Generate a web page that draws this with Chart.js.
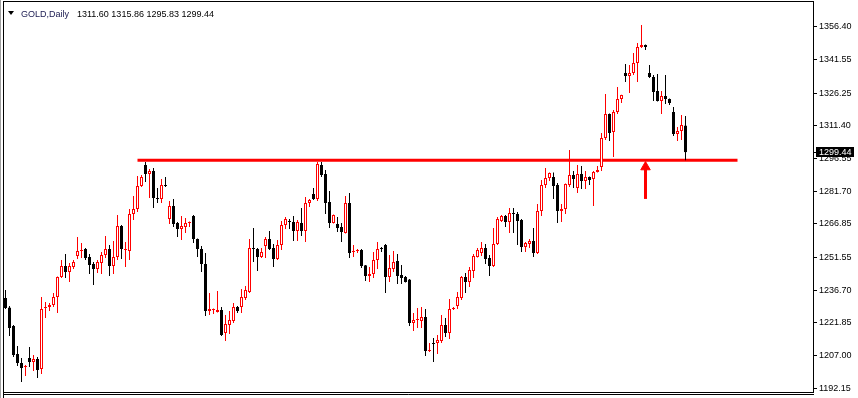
<!DOCTYPE html>
<html>
<head>
<meta charset="utf-8">
<script src="https://cdn.jsdelivr.net/npm/chart.js@4.4.1/dist/chart.umd.min.js"></script>
<style>
  html, body { margin: 0; padding: 0; background: #fff; }
  #wrap { width: 858px; height: 398px; position: relative; }
</style>
</head>
<body>
<div id="wrap"><canvas id="goldChart"></canvas></div>
<script>
// GOLD daily candles, oldest first
const symbolTitle = 'GOLD,Daily';
const opens = [
  1233.2, 1228.8, 1220.4, 1207.7, 1203.6, 1201.8, 1205.9, 1204.1, 1205.4, 1200.9,
  1228.6, 1229.1, 1230.0, 1233.6, 1242.7, 1247.7, 1245.0, 1247.3, 1252.3, 1254.5,
  1255.4, 1251.8, 1248.6, 1246.4, 1249.1, 1252.7, 1255.4, 1247.7, 1251.8, 1265.9,
  1255.0, 1254.5, 1271.3, 1273.6, 1284.1, 1293.6, 1289.5, 1290.9, 1278.6, 1278.2,
  1284.5, 1269.1, 1275.0, 1267.3, 1264.5, 1265.4, 1267.3, 1270.4, 1260.0, 1255.4,
  1248.6, 1227.3, 1227.7, 1226.8, 1227.7, 1217.3, 1220.9, 1222.7, 1229.1, 1229.1,
  1233.2, 1235.9, 1255.9, 1255.4, 1251.8, 1256.8, 1260.0, 1255.9, 1250.9, 1257.3,
  1266.3, 1268.2, 1267.7, 1263.6, 1267.3, 1263.6, 1276.4, 1280.4, 1278.2, 1293.6,
  1289.5, 1276.8, 1267.3, 1266.8, 1265.4, 1262.7, 1276.4, 1254.1, 1254.5, 1255.0,
  1248.0, 1243.2, 1244.1, 1250.4, 1255.9, 1257.3, 1242.7, 1246.4, 1250.0, 1243.6,
  1242.7, 1241.6, 1221.8, 1223.2, 1222.7, 1224.5, 1209.1, 1212.7, 1212.7, 1213.6,
  1220.9, 1217.3, 1228.2, 1229.5, 1233.2, 1242.7, 1240.4, 1245.4, 1251.8, 1253.6,
  1255.9, 1251.4, 1247.7, 1257.7, 1268.2, 1270.4, 1267.7, 1271.8, 1271.3, 1268.6,
  1256.3, 1257.7, 1259.1, 1253.6, 1272.7, 1284.5, 1287.7, 1288.2, 1284.5, 1272.7,
  1273.6, 1284.5, 1289.1, 1283.2, 1289.5, 1286.4, 1288.2, 1287.3, 1290.4, 1292.7,
  1305.9, 1316.8, 1308.6, 1317.7, 1323.6, 1335.4, 1334.1, 1335.4, 1340.0, 1347.3,
  1348.2, 1335.4, 1333.6, 1327.3, 1322.7, 1325.0, 1323.6, 1317.7, 1307.7, 1309.1,
  1311.60
];
const highs = [
  1236.8, 1229.5, 1220.9, 1211.3, 1205.9, 1202.7, 1210.9, 1207.3, 1206.3, 1233.6,
  1231.3, 1230.9, 1235.4, 1242.9, 1250.4, 1253.2, 1249.1, 1250.4, 1260.9, 1258.2,
  1255.9, 1253.2, 1249.5, 1250.4, 1254.1, 1261.3, 1257.3, 1259.1, 1270.9, 1266.3,
  1258.6, 1273.6, 1279.5, 1288.6, 1289.1, 1295.0, 1291.8, 1292.3, 1283.2, 1287.3,
  1288.2, 1277.3, 1278.2, 1267.7, 1270.4, 1269.5, 1267.9, 1270.9, 1260.2, 1256.8,
  1253.6, 1235.4, 1228.4, 1236.4, 1229.1, 1225.4, 1227.3, 1230.9, 1229.5, 1237.3,
  1238.6, 1260.0, 1265.0, 1255.9, 1255.9, 1260.9, 1263.6, 1257.7, 1259.5, 1268.2,
  1270.0, 1269.1, 1270.4, 1268.6, 1274.1, 1279.1, 1278.2, 1283.2, 1295.0, 1295.0,
  1291.3, 1281.8, 1271.1, 1270.0, 1267.3, 1279.5, 1280.9, 1257.3, 1255.4, 1255.4,
  1248.2, 1247.3, 1254.1, 1258.6, 1256.3, 1257.7, 1252.7, 1254.5, 1253.2, 1248.2,
  1243.2, 1241.8, 1226.3, 1228.6, 1229.1, 1228.2, 1212.7, 1215.0, 1216.4, 1225.4,
  1224.1, 1232.7, 1229.1, 1235.9, 1243.2, 1244.5, 1247.3, 1253.2, 1255.9, 1258.6,
  1257.7, 1252.7, 1265.0, 1270.0, 1270.9, 1270.9, 1274.1, 1274.1, 1272.3, 1269.1,
  1258.6, 1260.0, 1265.0, 1275.9, 1286.8, 1292.3, 1290.2, 1290.2, 1285.4, 1275.9,
  1285.2, 1300.4, 1290.9, 1293.6, 1293.2, 1290.9, 1288.4, 1290.9, 1293.2, 1308.2,
  1325.9, 1317.0, 1318.6, 1329.1, 1325.6, 1339.5, 1339.1, 1344.5, 1349.1, 1357.3,
  1348.4, 1339.1, 1334.5, 1335.0, 1327.3, 1334.5, 1323.8, 1320.0, 1310.9, 1316.4,
  1315.86
];
const lows = [
  1228.2, 1215.9, 1206.3, 1202.3, 1195.0, 1197.7, 1201.8, 1200.0, 1196.8, 1198.6,
  1224.1, 1227.3, 1229.1, 1226.3, 1242.3, 1242.3, 1240.4, 1246.4, 1250.9, 1251.4,
  1250.4, 1244.1, 1239.1, 1244.5, 1244.1, 1251.4, 1243.2, 1244.1, 1250.4, 1250.9,
  1247.3, 1250.4, 1268.6, 1272.3, 1283.6, 1285.9, 1278.6, 1274.1, 1276.4, 1276.4,
  1283.6, 1266.8, 1265.4, 1260.9, 1259.5, 1262.7, 1265.4, 1258.2, 1251.8, 1245.0,
  1225.0, 1225.4, 1225.9, 1226.6, 1215.9, 1213.6, 1216.8, 1221.8, 1226.3, 1226.3,
  1232.3, 1235.4, 1249.5, 1245.4, 1251.4, 1251.4, 1255.0, 1247.3, 1250.4, 1255.0,
  1264.5, 1264.5, 1259.1, 1259.1, 1261.3, 1258.6, 1274.5, 1277.7, 1277.3, 1288.2,
  1271.3, 1265.0, 1267.0, 1263.2, 1258.6, 1262.5, 1251.4, 1251.8, 1253.6, 1246.8,
  1240.9, 1240.4, 1242.3, 1246.4, 1254.1, 1235.4, 1240.4, 1245.0, 1239.5, 1239.5,
  1240.2, 1220.4, 1218.2, 1219.5, 1219.5, 1206.8, 1208.6, 1204.1, 1207.7, 1212.7,
  1215.4, 1214.5, 1227.7, 1228.2, 1232.3, 1235.4, 1238.2, 1242.3, 1251.6, 1252.3,
  1248.6, 1243.2, 1247.3, 1257.3, 1267.7, 1265.4, 1262.7, 1262.7, 1257.3, 1254.1,
  1254.1, 1255.9, 1251.8, 1253.2, 1270.4, 1283.2, 1286.4, 1278.2, 1267.3, 1267.7,
  1271.3, 1283.6, 1283.2, 1280.9, 1282.7, 1282.7, 1284.5, 1275.0, 1290.2, 1290.9,
  1305.0, 1304.5, 1297.3, 1316.8, 1321.8, 1331.3, 1326.4, 1334.5, 1331.3, 1346.8,
  1345.9, 1333.2, 1322.7, 1322.5, 1316.8, 1321.3, 1320.9, 1306.8, 1304.5, 1305.0,
  1295.83
];
const closes = [
  1228.6, 1219.5, 1207.3, 1203.6, 1201.3, 1202.3, 1204.1, 1205.4, 1200.4, 1228.2,
  1229.1, 1230.0, 1233.6, 1242.7, 1247.7, 1245.0, 1247.7, 1249.5, 1254.5, 1255.0,
  1251.4, 1248.2, 1246.4, 1249.5, 1252.7, 1255.4, 1247.7, 1251.8, 1265.9, 1255.4,
  1255.2, 1271.3, 1273.6, 1284.1, 1288.2, 1289.5, 1290.9, 1278.6, 1278.2, 1284.5,
  1284.1, 1275.0, 1266.8, 1264.5, 1265.9, 1267.3, 1267.7, 1260.0, 1255.4, 1248.6,
  1227.3, 1228.2, 1228.2, 1227.7, 1216.4, 1221.4, 1223.2, 1229.1, 1227.3, 1233.6,
  1236.8, 1255.9, 1255.4, 1251.8, 1254.1, 1260.0, 1255.4, 1250.9, 1257.3, 1266.3,
  1269.1, 1267.7, 1263.6, 1267.7, 1263.6, 1276.4, 1277.7, 1278.2, 1294.1, 1289.1,
  1276.4, 1267.3, 1270.9, 1265.0, 1263.2, 1276.4, 1253.6, 1254.5, 1254.7, 1247.7,
  1243.2, 1244.1, 1250.4, 1255.4, 1255.4, 1242.7, 1246.8, 1249.5, 1243.2, 1242.3,
  1240.4, 1221.8, 1223.2, 1223.4, 1224.5, 1209.1, 1209.5, 1212.3, 1214.1, 1220.9,
  1217.3, 1228.2, 1228.6, 1233.6, 1242.7, 1240.4, 1245.9, 1252.3, 1255.0, 1255.9,
  1250.9, 1247.7, 1257.7, 1269.1, 1270.4, 1267.7, 1271.8, 1271.3, 1268.2, 1256.3,
  1258.2, 1259.1, 1253.6, 1272.7, 1284.5, 1287.7, 1290.0, 1284.1, 1272.7, 1273.6,
  1285.0, 1289.1, 1287.3, 1289.5, 1286.4, 1288.2, 1286.8, 1290.4, 1291.3, 1305.9,
  1316.8, 1308.2, 1317.7, 1323.6, 1325.4, 1334.1, 1335.4, 1340.0, 1347.3, 1348.2,
  1347.3, 1333.6, 1326.8, 1322.7, 1325.0, 1323.6, 1321.8, 1307.7, 1309.1, 1311.8,
  1299.44
];
const priceTicks = [1356.40, 1341.55, 1326.25, 1311.40, 1296.55, 1281.70, 1266.85, 1251.55, 1236.70, 1221.85, 1207.00, 1192.15];

// drawn objects: support line and arrow (bar index, price)
const supportLevel = 1295.8;
const supportFrom = 33;
const supportTo = 183;
const arrowBar = 160;
const arrowBase = 1278.2;
const arrowHead = 1292.7;

const bull = '#ff0000';
const bear = '#000000';

const bars = opens.map((o, i) => i);
const colors = bars.map(i => closes[i] >= opens[i] ? bull : bear);
const fills = bars.map(i => closes[i] >= opens[i] ? '#ffffff' : bear);

const last = opens.length - 1;

const framePlugin = {
  id: 'frame',
  afterDraw(chart) {
    const ctx = chart.ctx;
    const yScale = chart.scales.y;
    ctx.save();
    // window frame
    ctx.strokeStyle = '#a0a0a0';
    ctx.lineWidth = 1;
    ctx.beginPath();
    ctx.moveTo(0.5, 0); ctx.lineTo(0.5, 398);
    ctx.stroke();
    ctx.strokeStyle = '#000';
    ctx.strokeRect(3.5, 1.5, 810, 391);
    ctx.beginPath();
    ctx.moveTo(3.5, 394.5); ctx.lineTo(814, 394.5);
    ctx.moveTo(3.5, 392); ctx.lineTo(3.5, 398);
    ctx.stroke();

    // header
    ctx.fillStyle = '#000';
    ctx.beginPath();
    ctx.moveTo(8, 11); ctx.lineTo(14, 11); ctx.lineTo(11, 15); ctx.closePath();
    ctx.fill();
    ctx.font = '9px "Liberation Sans"';
    ctx.textBaseline = 'alphabetic';
    ctx.fillStyle = '#1a1a50';
    ctx.fillText(symbolTitle, 21, 16.5);
    ctx.fillStyle = '#000';
    const ohlc = [opens[last], highs[last], lows[last], closes[last]].map(v => v.toFixed(2)).join(' ');
    ctx.fillText(ohlc, 77, 16.5);

    // current price marker
    const y = Math.round(yScale.getPixelForValue(closes[last]));
    ctx.fillStyle = '#000';
    ctx.fillRect(816, y - 5, 38, 10);
    ctx.beginPath();
    ctx.moveTo(814, y + 0.5); ctx.lineTo(817, y + 0.5);
    ctx.stroke();
    ctx.fillStyle = '#fff';
    ctx.textBaseline = 'middle';
    ctx.fillText(closes[last].toFixed(2), 819, y + 0.5);
    ctx.restore();
  }
};

new Chart(document.getElementById('goldChart'), {
  type: 'bar',
  data: {
    datasets: [{
      label: 'body',
      data: bars.map(i => ({ x: i, y: [opens[i], closes[i]] })),
      backgroundColor: fills,
      borderColor: colors,
      borderWidth: 1,
      borderSkipped: false,
      barThickness: 3,
      minBarLength: 1,
      inflateAmount: 0,
      grouped: false,
      order: 0
    }, {
      label: 'wick',
      data: bars.map(i => ({ x: i, y: [lows[i], highs[i]] })),
      backgroundColor: colors,
      borderWidth: 0,
      barThickness: 1,
      inflateAmount: 0,
      grouped: false,
      order: 1
    }, {
      type: 'line',
      label: 'support',
      data: [{ x: supportFrom, y: supportLevel }, { x: supportTo, y: supportLevel }],
      borderColor: bull,
      borderWidth: 3,
      pointRadius: 0,
      order: 2
    }, {
      type: 'line',
      label: 'arrow',
      data: [{ x: arrowBar, y: arrowBase }, { x: arrowBar, y: arrowHead }],
      borderColor: bull,
      backgroundColor: bull,
      borderWidth: 3,
      pointStyle: 'triangle',
      pointRadius: [0, 5.5],
      pointBorderWidth: 1,
      order: 2
    }]
  },
  options: {
    responsive: true,
    maintainAspectRatio: false,
    animation: false,
    layout: { autoPadding: false, padding: { left: 4, top: 1, right: 0, bottom: 6 } },
    plugins: {
      legend: { display: false },
      tooltip: { enabled: false }
    },
    scales: {
      x: {
        type: 'linear',
        display: false,
        offset: false,
        min: -0.375,
        max: 202.125
      },
      y: {
        position: 'right',
        min: 1190.44,
        max: 1368.17,
        afterFit: (scale) => {
          scale.width = 44;
          scale.paddingTop = 0;
          scale.paddingBottom = 0;
        },
        afterBuildTicks: (scale) => { scale.ticks = priceTicks.map(v => ({ value: v })); },
        grid: { drawOnChartArea: false, drawTicks: true, tickLength: 3, color: '#000' },
        border: { display: false },
        ticks: {
          autoSkip: false,
          padding: 2,
          color: '#000',
          font: { family: '"Liberation Sans"', size: 9 },
          callback: (v) => Number(v).toFixed(2)
        }
      }
    }
  },
  plugins: [framePlugin]
});
</script>
</body>
</html>
